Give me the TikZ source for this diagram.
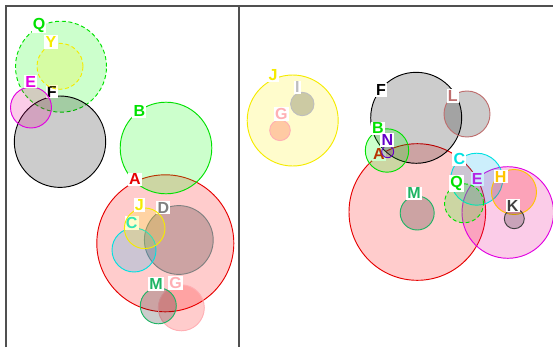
\documentclass[tikz,border=0pt]{standalone}
\usepackage{fontspec}
\setsansfont{Liberation Sans}
\usepackage{tikz}

% SET COLOURS: STROKE AND LABEL, THEN FILL
\definecolor{setA}{RGB}{230,0,0}     \colorlet{setA-fill}{red}
\definecolor{setB}{RGB}{0,225,0}     \colorlet{setB-fill}{green}
\definecolor{setC}{RGB}{0,225,225}   \colorlet{setC-fill}{cyan}
\definecolor{setD}{RGB}{128,128,128} \colorlet{setD-fill}{black}
\definecolor{setE}{RGB}{225,0,225}   \colorlet{setE-fill}{magenta}
\definecolor{setF}{RGB}{0,0,0}       \colorlet{setF-fill}{black}
\definecolor{setG}{RGB}{255,175,180} \colorlet{setG-fill}{red}
\definecolor{setH}{RGB}{255,195,0}   \colorlet{setH-fill}{red}
\definecolor{setI}{RGB}{190,190,190} \colorlet{setI-fill}{black}
\definecolor{setJ}{RGB}{245,235,0}   \colorlet{setJ-fill}{yellow}
\definecolor{setK}{RGB}{64,64,64}    \colorlet{setK-fill}{black}
\definecolor{setL}{RGB}{190,110,110} \colorlet{setL-fill}{black}
\definecolor{setM}{RGB}{30,180,100}  \colorlet{setM-fill}{black}
\definecolor{setN}{RGB}{100,0,200}   \colorlet{setN-fill}{violet}
\definecolor{setQ}{RGB}{0,225,0}     \colorlet{setQ-fill}{green}
\definecolor{setY}{RGB}{245,235,0}   \colorlet{setY-fill}{yellow}
\definecolor{framegray}{RGB}{80,80,80}

\tikzset{
    my-set/.style 2 args={
        circle, inner sep=0pt, line width=.7pt, minimum size=#2*1.5pt,
        draw=set#1, fill=set#1-fill, fill opacity=.2
    },
    my-label/.style={
        fill=white, text=set#1, inner sep=.9pt,
        font=\sffamily\bfseries\fontsize{12}{12}\selectfont
    },
    my-dash/.style={dash pattern=on 3pt off 2pt},
    my-frame/.style={draw=framegray, line width=.9pt},
}

\begin{document}
\begin{tikzpicture}[x=.75pt, y=-.75pt]

        \useasboundingbox (0,0) rectangle (553,347);

        % FRAME
        \draw[my-frame] (6,347) -- (6,6) -- (553,6);
        \draw[my-frame] (239,6) -- (239,347);

        % LEFT PANEL
        \node[my-set={A}{68.5}]          (A1)  at (165.3,243.3) {};
        \node[my-set={B}{45.8}]          (B1)  at (166,148)     {};
        \node[my-label=A]                (A1L) at (135,179.3)   {A};
        \node[my-label=B]                (B1L) at (139.3,111)   {B};
        \node[my-set={Q}{45.5}, my-dash] (Q1)  at (61,66.7)     {};
        \node[my-label=Q]                (Q1L) at (39,25)       {Q};
        \node[my-set={F}{45.7}]          (F1)  at (60,141.7)    {};
        \node[my-label=F]                (F1L) at (51.7,91.7)   {F};
        \node[my-set={D}{34.4}]          (D1)  at (178.8,240)   {};
        \node[my-label=D]                (D1L) at (163.3,207.7) {D};
        \node[my-set={G}{23}]            (G1)  at (181.3,307.8) {};
        \node[my-label=G]                (G1L) at (175.7,283.3) {G};
        \node[my-set={Y}{23}, my-dash]   (Y1)  at (60,66.3)     {};
        \node[my-label=Y]                (Y1L) at (51,42)       {Y};
        \node[my-set={C}{22}]            (C1)  at (134,250)     {};
        \node[my-label=C]                (C1L) at (131.7,223.3) {C};
        \node[my-set={E}{20.5}]          (E1)  at (31,107.5)    {};
        \node[my-label=E]                (E1L) at (30.7,81.7)   {E};
        \node[my-set={J}{20.3}]          (J1)  at (144.7,228.3) {};
        \node[my-label=J]                (J1L) at (139.3,205)   {J};
        \node[my-set={M}{18}]            (M1)  at (158.3,305.8) {};
        \node[my-label=M]                (M1L) at (156,284)     {M};

        % RIGHT PANEL
        \node[my-set={A}{68.3}]          (A2)  at (417.3,212)   {};
        \node[my-label=A]                (A2L) at (379,154.3)   {A};
        \node[my-set={E}{45.8}]          (E2)  at (507.8,212.5) {};
        \node[my-label=E]                (E2L) at (477.3,179)   {E};
        \node[my-set={F}{45.5}]          (F2)  at (416.2,117.8) {};
        \node[my-label=F]                (F2L) at (381,90)      {F};
        \node[my-set={J}{45.5}]          (J2)  at (292.7,120.5) {};
        \node[my-label=J]                (J2L) at (273,75)      {J};
        \node[my-set={C}{26}]            (C2)  at (476.7,179.2) {};
        \node[my-label=C]                (C2L) at (459.3,159.3) {C};
        \node[my-set={L}{23}]            (L2)  at (467,114)     {};
        \node[my-label=L]                (L2L) at (452.7,96)    {L};
        \node[my-set={H}{22.5}]          (H2)  at (514,192)     {};
        \node[my-label=H]                (H2L) at (500.7,176.7) {H};
        \node[my-set={B}{21.7}]          (B2)  at (387,150.5)   {};
        \node[my-label=B]                (B2L) at (378,128.3)   {B};
        \node[my-set={Q}{19.5}, my-dash] (Q2)  at (464,203.3)   {};
        \node[my-label=Q]                (Q2L) at (456.7,183.3) {Q};
        \node[my-set={M}{17}]            (M2)  at (417.2,213)   {};
        \node[my-label=M]                (M2L) at (414,193.3)   {M};
        \node[my-set={I}{11.7}]          (I2)  at (302.3,104)   {};
        \node[my-label=I]                (I2L) at (297.3,87.3)  {I};
        \node[my-set={G}{10.3}]          (G2)  at (280,130.3)   {};
        \node[my-label=G]                (G2L) at (281.3,114.3) {G};
        \node[my-set={K}{10}]            (K2)  at (514.3,218.7) {};
        \node[my-label=K]                (K2L) at (512.7,205.7) {K};
        \node[my-set={N}{6}]             (N2)  at (387.7,151.7) {};
        \node[my-label=N]                (N2L) at (387.3,140)   {N};

\end{tikzpicture}
\end{document}
